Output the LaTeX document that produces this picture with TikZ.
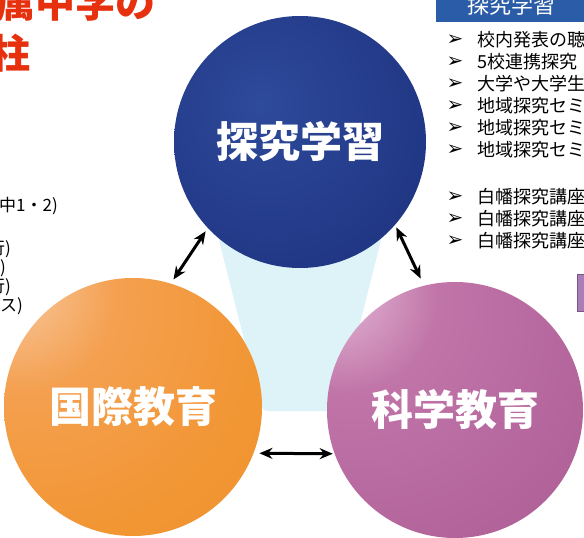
\documentclass[tikz,border=0pt]{standalone}
\usepackage{fontspec}
\setmainfont{Noto Sans CJK JP}
\newfontfamily\dejavu{DejaVu Sans}
\usetikzlibrary{arrows.meta}
\definecolor{bluL}{RGB}{46,74,154}
\definecolor{bluM}{RGB}{33,56,134}
\definecolor{bluD}{RGB}{25,42,108}
\definecolor{orL}{RGB}{249,206,170}
\definecolor{orM}{RGB}{244,160,80}
\definecolor{orM2}{RGB}{242,150,52}
\definecolor{orD}{RGB}{236,134,36}
\definecolor{puL}{RGB}{234,196,222}
\definecolor{puM}{RGB}{192,116,168}
\definecolor{puM2}{RGB}{180,102,156}
\definecolor{puD}{RGB}{160,80,136}
\definecolor{cyanbg}{RGB}{222,243,248}
\definecolor{titlered}{RGB}{230,48,14}
\definecolor{hdrblue}{RGB}{42,92,168}
\definecolor{boxpurple}{RGB}{170,124,184}
\pgfdeclareradialshading{blueball}{\pgfpoint{-8bp}{8bp}}{color(0bp)=(bluL); color(30bp)=(bluM); color(60bp)=(bluD); color(100bp)=(bluD)}
\pgfdeclareradialshading{orangeball}{\pgfpoint{-26bp}{26bp}}{color(0bp)=(orL); color(18bp)=(orM); color(40bp)=(orM2); color(75bp)=(orD); color(100bp)=(orD)}
\pgfdeclareradialshading{purpleball}{\pgfpoint{-26bp}{26bp}}{color(0bp)=(puL); color(18bp)=(puM); color(40bp)=(puM2); color(75bp)=(puD); color(100bp)=(puD)}
\tikzset{
  ball/.style={circle, inner sep=0pt, outer sep=0pt, text=white,
    font=\fontsize{42}{42}\selectfont\bfseries},
  dbl/.style={{Stealth[length=13pt,width=11pt]}-{Stealth[length=13pt,width=11pt]}, line width=3pt, black},
  bul/.style={inner sep=0pt, font=\dejavu\fontsize{20}{20}\selectfont},
  item/.style={inner sep=0pt, anchor=west, font=\fontsize{18}{18}\selectfont},
  lefttxt/.style={inner sep=0pt, anchor=base east, font=\fontsize{17}{17}\selectfont},
  title/.style={inner sep=0pt, anchor=base west, text=titlered, font=\fontsize{40}{40}\selectfont\bfseries}
}
\begin{document}
\begin{tikzpicture}[x=1pt,y=-1pt]
\useasboundingbox (0,0) rectangle (584,538);
\clip (0,0) rectangle (584,538);
\fill[white] (0,0) rectangle (584,538);
% light cyan background
\fill[cyanbg, rounded corners=6pt] (218,236) -- (382,236) -- (338,411) -- (262,411) -- cycle;
% circles
\node[ball, shading=blueball, minimum size=252pt] (B) at (300,142) {探究学習};
\node[ball, shading=orangeball, minimum size=258pt] (O) at (133,407) {国際教育};
\node[ball, shading=purpleball, minimum size=256pt] (P) at (455,410) {科学教育};
% arrows
\draw[dbl, shorten <=5pt, shorten >=4pt] (O.73) -- (B.223);
\draw[dbl, shorten <=3pt, shorten >=8pt] (B.319) -- (P.104);
\draw[dbl, shorten <=6pt, shorten >=2pt] (O.339) -- (P.200);
% title (cropped)
\node[title] (t1) at (-5,17) {属中学の};
\node[title] (t2) at (-10,68) {柱};
% left cropped texts
\node[lefttxt] (l1) at (58,211) {中1・2)};
\node[lefttxt] (l2) at (11,254) {行)};
\node[lefttxt] (l3) at (6,273) {)};
\node[lefttxt] (l4) at (11,292) {行)};
\node[lefttxt] (l5) at (23,311) {ラス)};
% right header
\node[fill=hdrblue, minimum width=150pt, minimum height=34pt, inner sep=0pt, text=white,
  font=\fontsize{22}{22}\selectfont] (hdr) at (511,5) {探究学習};
% right list
\foreach \yy/\tt [count=\i] in {40/校内発表の聴, 62/5校連携探究, 84/大学や大学生,
  106/地域探究セミ, 128/地域探究セミ, 150/地域探究セミ,
  197/白幡探究講座, 219/白幡探究講座, 241/白幡探究講座}{
  \node[bul] (b\i) at (455,\yy) {➢};
  \node[item] (r\i) at (477,\yy) {\tt};
}
% small purple box at right
\node[fill=boxpurple, draw=boxpurple!70!black, minimum width=12pt, minimum height=37pt, inner sep=0pt] (pb) at (583,293) {};
\end{tikzpicture}
\end{document}
